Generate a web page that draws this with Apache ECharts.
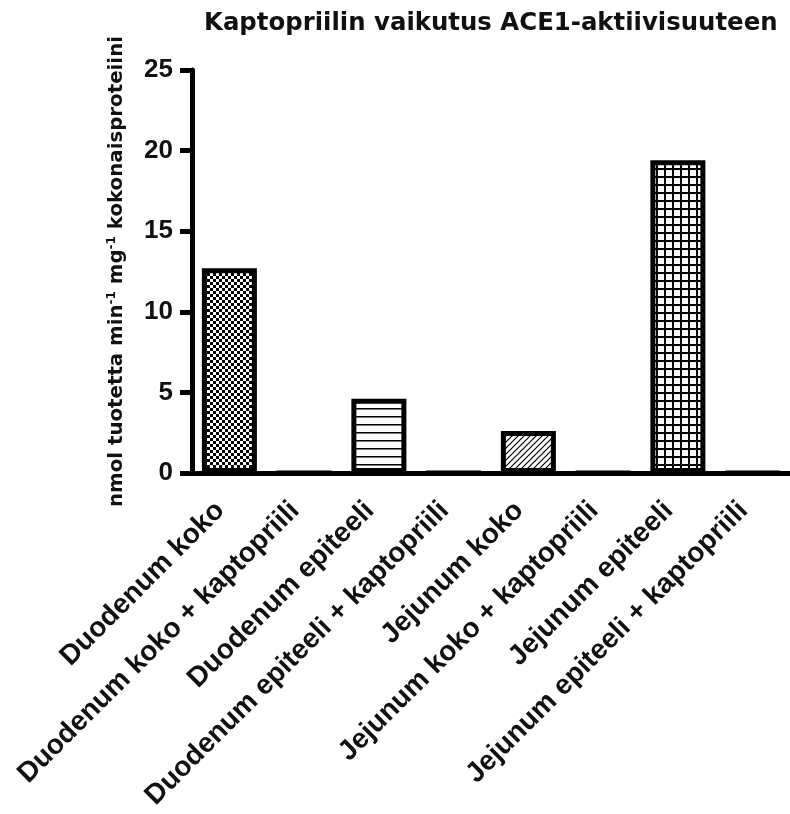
<!DOCTYPE html>
<html>
<head>
<meta charset="utf-8">
<script src="https://cdn.jsdelivr.net/npm/echarts@6/dist/echarts.min.js"></script>
<style>
  html, body { margin: 0; padding: 0; background: #fff; }
  #chart { width: 790px; height: 814px; }
</style>
</head>
<body>
<div id="chart"></div>
<script>
// ACE1 activity per tissue preparation, with and without captopril
const titleText = 'Kaptopriilin vaikutus ACE1-aktiivisuuteen';
const categories = [
  'Duodenum koko',
  'Duodenum koko + kaptopriili',
  'Duodenum epiteeli',
  'Duodenum epiteeli + kaptopriili',
  'Jejunum koko',
  'Jejunum koko + kaptopriili',
  'Jejunum epiteeli',
  'Jejunum epiteeli + kaptopriili'
];
const activity = [12.7, 0, 4.6, 0, 2.6, 0, 19.4, 0];
const yMin = 0;
const yMax = 25;
const yStep = 5;
// fill style for each bar
const fills = ['checker', 'plain', 'hlines', 'plain', 'hatch', 'plain', 'grid', 'plain'];

function makeTile(size, draw) {
  const c = document.createElement('canvas');
  c.width = size; c.height = size;
  const g = c.getContext('2d');
  g.fillStyle = '#fff';
  g.fillRect(0, 0, size, size);
  g.fillStyle = '#000';
  g.strokeStyle = '#000';
  draw(g, size);
  return { image: c, repeat: 'repeat' };
}

const patterns = {
  plain: '#fff',
  checker: makeTile(6, (g) => {
    g.fillRect(0, 0, 3, 3);
    g.fillRect(3, 3, 3, 3);
  }),
  hlines: makeTile(8, (g, s) => {
    g.fillRect(0, 0, s, 1.5);
  }),
  hatch: makeTile(6, (g, s) => {
    g.lineWidth = 1.2;
    g.beginPath();
    g.moveTo(-1, s + 1); g.lineTo(s + 1, -1);
    g.moveTo(-1, 1); g.lineTo(1, -1);
    g.moveTo(s - 1, s + 1); g.lineTo(s + 1, s - 1);
    g.stroke();
  }),
  grid: makeTile(8, (g, s) => {
    g.fillRect(0, 0, s, 2);
    g.fillRect(0, 0, 2, s);
  })
};

const barData = activity.map((v, i) => ({
  value: v,
  itemStyle: { color: patterns[fills[i]] }
}));

const chart = echarts.init(document.getElementById('chart'), null, { renderer: 'canvas' });

chart.setOption({
  animation: false,
  backgroundColor: '#fff',
  title: {
    text: titleText,
    left: 199,
    top: 7,
    textStyle: {
      fontFamily: 'DejaVu Sans',
      fontWeight: 'bold',
      fontSize: 24.4,
      color: '#111'
    }
  },
  grid: { left: 192, top: 70, width: 598, height: 403 },
  xAxis: {
    type: 'category',
    data: categories,
    axisLine: { lineStyle: { color: '#000', width: 5 } },
    axisTick: { alignWithLabel: true, length: 12, lineStyle: { color: '#000', width: 5 } },
    axisLabel: {
      interval: 0,
      rotate: 45,
      margin: 24,
      padding: [0, 13, 0, 0],
      fontFamily: 'Liberation Sans',
      fontWeight: 'bold',
      fontSize: 28,
      color: '#111'
    }
  },
  yAxis: {
    type: 'value',
    min: yMin,
    max: yMax,
    interval: yStep,
    splitLine: { show: false },
    axisLine: { show: true, lineStyle: { color: '#000', width: 5 } },
    axisTick: { show: true, length: 12, lineStyle: { color: '#000', width: 5 } },
    axisLabel: {
      margin: 19,
      fontFamily: 'Liberation Sans',
      fontWeight: 'bold',
      fontSize: 26,
      color: '#111'
    },
    name: '{t|nmol tuotetta min}{s|-1}{t| mg}{s|-1}{t| kokonaisproteiini}',
    nameLocation: 'middle',
    nameGap: 64,
    nameTextStyle: {
      rich: {
        t: { fontFamily: 'DejaVu Sans', fontWeight: 'bold', fontSize: 19.8, color: '#111', lineHeight: 22 },
        s: { fontFamily: 'DejaVu Sans', fontWeight: 'bold', fontSize: 12, color: '#111', lineHeight: 22, verticalAlign: 'top' }
      }
    }
  },
  series: [{
    type: 'bar',
    data: barData,
    barWidth: 55,
    itemStyle: { borderColor: '#000', borderWidth: 5 }
  }]
});
</script>
</body>
</html>
